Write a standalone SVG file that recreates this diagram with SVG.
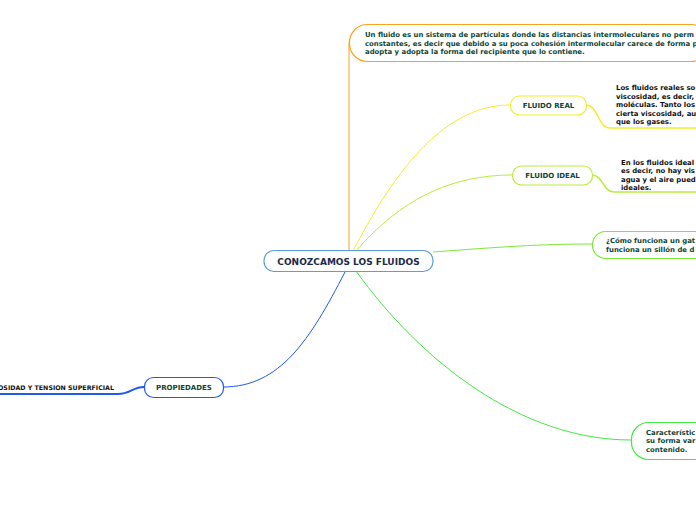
<svg xmlns="http://www.w3.org/2000/svg" width="696" height="520" viewBox="0 0 696 520">
<style>
text{font-family:"DejaVu Sans",Verdana,sans-serif;font-weight:bold}
.lbl{font-size:7px;fill:#0d4535;text-anchor:middle}
.body{font-size:6.9px;fill:#111}
.top{font-size:6.9px;fill:#0d4535}
.c{fill:none;stroke-width:1}
.box{fill:#fff;stroke-width:1.2}
</style>
<rect width="696" height="520" fill="#fff"/>
<g id="connectors">
<path class="c" stroke="#f5a31e" d="M349,251 L349,42"/>
<path class="c" stroke="#f4ee2a" d="M353,251 C390,180 440,105 510,105"/>
<path class="c" stroke="#b8ee3a" d="M356,251 C400,200 450,175 512,175"/>
<path class="c" stroke="#7ce83a" d="M433,252 C500,247 540,244 592,244"/>
<path class="c" stroke="#44e844" d="M356,271 C420,360 520,440 631,440"/>
<path class="c" stroke="#2058f0" d="M345,272 C310,340 280,387 223,387"/>
<path fill="none" stroke="#f4ee2a" stroke-width="1.5" d="M586,105 C598,105 598,128 610,128 L696,128"/>
<path fill="none" stroke="#b8ee3a" stroke-width="1.5" d="M592,175 C603,175 603,192 614,192 L696,192"/>
<path fill="none" stroke="#2058f0" stroke-width="2" d="M144,387 C133,387 130,394 118,394 L0,394"/>
</g>
<g id="central">
<rect class="box" stroke="#5a9fd8" x="264" y="250.5" width="169" height="21" rx="10"/>
<text x="348.5" y="265" style="font-size:9px;fill:#1b2a4a;text-anchor:middle">CONOZCAMOS LOS FLUIDOS</text>
</g>
<g id="definicion">
<rect class="box" stroke="#f5a31e" x="349.5" y="24.5" width="360" height="37" rx="18"/>
<text class="top" x="365" y="37">Un fluido es un sistema de partículas donde las distancias intermoleculares no perm</text>
<text class="top" x="365" y="45.5">constantes, es decir que debido a su poca cohesión intermolecular carece de forma p</text>
<text class="top" x="365" y="54">adopta y adopta la forma del recipiente que lo contiene.</text>
</g>
<g id="fluido-real">
<rect class="box" stroke="#f4ee2a" x="510.5" y="96" width="76" height="19" rx="9"/>
<text class="lbl" x="548.5" y="108">FLUIDO REAL</text>
<text class="body" x="616" y="90">Los fluidos reales so</text>
<text class="body" x="616" y="98.5">viscosidad, es decir,</text>
<text class="body" x="616" y="107">moléculas. Tanto los</text>
<text class="body" x="616" y="115.5">cierta viscosidad, au</text>
<text class="body" x="616" y="124">que los gases.</text>
</g>
<g id="fluido-ideal">
<rect class="box" stroke="#b8ee3a" x="512.5" y="166" width="80" height="19" rx="9"/>
<text class="lbl" x="552.5" y="178">FLUIDO IDEAL</text>
<text class="body" x="621" y="164.5">En los fluidos ideal</text>
<text class="body" x="621" y="173">es decir, no hay vis</text>
<text class="body" x="621" y="181.5">agua y el aire pued</text>
<text class="body" x="621" y="190">ideales.</text>
</g>
<g id="gato">
<rect class="box" stroke="#7ce83a" x="592.5" y="231.5" width="130" height="27" rx="13"/>
<text class="top" x="606" y="243">¿Cómo funciona un gat</text>
<text class="top" x="606" y="251.5">funciona un sillón de d</text>
</g>
<g id="caracteristicas">
<rect class="box" stroke="#44e844" x="631.5" y="422.5" width="100" height="37" rx="17"/>
<text class="top" x="646" y="434.5">Característic</text>
<text class="top" x="646" y="443">su forma var</text>
<text class="top" x="646" y="451.5">contenido.</text>
</g>
<g id="propiedades">
<rect class="box" stroke="#2058f0" x="144.5" y="377.5" width="79" height="20" rx="9"/>
<text class="lbl" x="184" y="390">PROPIEDADES</text>
<text x="114" y="389.5" style="font-size:6.3px;fill:#111;text-anchor:end">OSIDAD Y TENSION SUPERFICIAL</text>
</g>
</svg>
